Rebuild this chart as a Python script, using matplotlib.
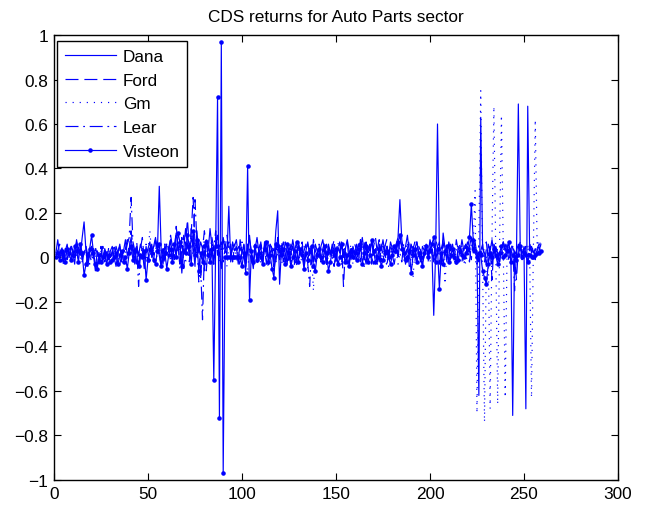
import numpy as np
import matplotlib
matplotlib.use("Agg")
import matplotlib.pyplot as plt

plt.rcParams['font.family'] = ['Liberation Sans', 'DejaVu Sans']

# CDS returns per firm, one value per day
dana = [
    0.02, 0.08, 0.01, 0.04, -0.02, 0.03, 0.06, 0.00, 0.05, 0.02, -0.03, 0.07, 0.04, 0.01, 0.09, 0.16, 0.03, -0.04, 0.02, 0.05,
    0.01, -0.06, 0.03, 0.00, 0.02, -0.02, 0.04, 0.01, -0.01, 0.03, 0.05, 0.00, -0.04, 0.02, 0.06, -0.01, 0.03, 0.08, 0.01, 0.04,
    0.09, 0.02, -0.03, 0.05, 0.01, 0.06, 0.03, -0.05, 0.02, 0.04, 0.07, 0.00, 0.05, 0.09, 0.02, 0.32, 0.04, -0.03, 0.06, 0.01,
    0.03, 0.08, -0.02, 0.05, 0.11, 0.03, 0.06, -0.07, 0.04, 0.13, 0.06, 0.01, 0.09, 0.05, -0.04, 0.12, 0.02, 0.07, 0.04, -0.06,
    0.08, 0.03, 0.13, 0.05, -0.03, 0.06, 0.10, 0.02, -0.05, 0.09, 0.04, 0.01, 0.23, -0.02, 0.07, 0.03, 0.05, -0.03, 0.08, 0.02,
    0.06, -0.04, 0.03, 0.10, 0.01, -0.05, 0.04, 0.09, 0.02, 0.05, -0.03, 0.07, 0.03, 0.00, 0.06, 0.04, -0.02, 0.12, 0.21, -0.12,
    0.04, 0.07, 0.02, -0.03, 0.05, 0.01, 0.08, 0.03, -0.02, 0.06, 0.02, 0.05, -0.04, 0.03, 0.07, 0.01, 0.04, -0.02, 0.06, 0.03,
    0.00, 0.05, 0.08, 0.02, -0.03, 0.04, 0.01, 0.06, 0.03, -0.02, 0.05, 0.02, 0.07, 0.00, 0.04, 0.08, 0.03, -0.01, 0.05, 0.02,
    0.06, 0.01, 0.04, 0.09, 0.02, -0.03, 0.05, 0.03, 0.07, 0.01, 0.04, -0.02, 0.06, 0.03, 0.08, 0.02, 0.05, 0.00, 0.07, 0.04,
    0.02, 0.06, 0.09, 0.26, 0.08, 0.03, 0.05, 0.10, 0.02, 0.06, 0.01, 0.04, 0.07, 0.02, -0.02, 0.05, 0.03, 0.06, 0.01, 0.08,
    0.04, -0.26, 0.02, 0.60, 0.05, -0.03, 0.11, 0.04, -0.02, 0.07, 0.03, 0.06, 0.01, -0.03, 0.05, 0.02, 0.08, 0.03, 0.06, 0.02,
    0.05, 0.09, 0.03, 0.07, 0.01, -0.62, 0.63, 0.04, 0.02, -0.04, 0.06, 0.03, 0.08, 0.01, 0.05, 0.02, -0.02, 0.04, 0.07, 0.03,
    0.06, 0.02, 0.04, -0.71, 0.03, 0.01, 0.69, 0.05, 0.02, 0.04, -0.68, 0.68, 0.03, 0.05, 0.02, 0.04, 0.01, 0.03, 0.06,
]

ford = [
    0.01, 0.03, 0.06, 0.02, -0.03, 0.04, -0.01, 0.05, 0.02, -0.02, 0.03, 0.07, -0.01, 0.04, -0.02, 0.02, 0.05, -0.03, 0.03, 0.06,
    -0.01, 0.04, 0.02, -0.03, 0.05, -0.01, 0.03, -0.02, 0.04, 0.00, 0.02, 0.06, -0.01, 0.03, 0.05, -0.02, -0.02, 0.04, 0.08, 0.03,
    0.12, 0.05, -0.02, 0.07, -0.03, 0.04, 0.09, -0.01, 0.05, -0.02, 0.03, 0.06, -0.02, 0.08, 0.04, 0.01, -0.04, 0.05, -0.02, 0.07,
    0.03, 0.10, 0.05, -0.01, 0.14, 0.06, -0.03, 0.09, -0.05, 0.07, 0.17, 0.04, 0.11, 0.27, 0.06, 0.02, 0.09, -0.09, 0.04, 0.12,
    0.05, 0.08, -0.01, 0.06, -0.03, 0.09, 0.02, 0.05, 0.07, -0.02, 0.04, 0.10, 0.03, 0.06, -0.02, 0.05, 0.08, 0.01, -0.04, 0.03,
    0.06, -0.02, 0.05, 0.08, 0.03, -0.03, 0.06, 0.02, -0.01, 0.07, 0.01, 0.05, -0.03, 0.08, 0.02, 0.04, -0.06, 0.01, 0.09, 0.03,
    0.05, -0.02, 0.07, 0.03, -0.01, 0.06, 0.04, -0.03, 0.02, 0.05, 0.03, 0.07, -0.02, 0.04, 0.06, 0.02, -0.03, 0.08, 0.03, 0.01,
    0.04, -0.02, 0.02, 0.05, -0.03, 0.06, 0.01, 0.04, 0.08, -0.02, 0.05, 0.03, 0.06, -0.13, 0.04, 0.07, -0.02, 0.05, 0.01, 0.06,
    0.03, -0.02, 0.08, 0.02, -0.01, 0.07, 0.01, 0.06, -0.03, 0.05, 0.09, 0.02, -0.02, 0.06, 0.01, 0.05, 0.08, -0.02, 0.06, 0.02,
    0.04, 0.07, -0.01, 0.09, 0.05, 0.02, -0.03, 0.04, 0.08, 0.01, 0.05, -0.02, 0.07, 0.02, 0.04, -0.03, 0.03, 0.05, 0.01, 0.04,
    0.06, -0.02, 0.08, 0.05, -0.03, 0.04, 0.07, 0.01, 0.05, -0.02, 0.06, 0.02, -0.01, 0.08, 0.03, 0.05, -0.02, 0.06, 0.04, 0.07,
    0.03, -0.01, 0.09, 0.02, 0.04, -0.02, 0.03, 0.01, 0.05, 0.07, -0.02, 0.04, -0.10, 0.06, 0.03, -0.01, 0.02, 0.04, 0.07, 0.03,
    0.05, -0.02, 0.04, 0.06, 0.01, -0.10, 0.04, 0.07, -0.01, 0.05, 0.02, -0.02, 0.06, 0.03, 0.05, -0.01, 0.04, 0.06, 0.05,
]

gm = [
    0.00, 0.02, -0.01, 0.04, 0.01, 0.03, -0.02, 0.05, 0.02, 0.00, 0.03, 0.01, 0.06, -0.01, 0.02, 0.04, 0.00, 0.03, 0.01, -0.02,
    0.02, 0.05, 0.01, -0.03, 0.03, 0.00, 0.04, 0.02, -0.01, 0.03, 0.01, 0.05, 0.00, 0.02, 0.04, -0.02, 0.01, 0.03, 0.00, 0.06,
    0.02, 0.05, 0.01, -0.02, 0.03, 0.00, 0.04, 0.02, -0.01, 0.03, 0.12, 0.01, 0.04, -0.02, 0.02, 0.05, 0.00, 0.03, 0.06, 0.01,
    0.04, -0.02, 0.03, 0.07, 0.01, 0.05, 0.02, 0.09, 0.03, -0.03, 0.06, 0.02, 0.04, 0.01, 0.07, 0.03, 0.05, 0.00, 0.04, 0.08,
    0.02, -0.03, 0.03, 0.07, -0.01, 0.04, 0.09, -0.02, 0.06, 0.03, 0.08, -0.04, 0.05, 0.03, -0.02, 0.06, 0.00, -0.03, 0.02, 0.05,
    0.01, -0.04, -0.06, 0.04, 0.02, -0.02, 0.00, 0.03, 0.06, -0.03, 0.04, 0.02, -0.01, -0.04, 0.03, 0.06, 0.01, -0.02, 0.02, 0.05,
    -0.03, 0.00, 0.04, 0.06, -0.02, 0.05, 0.01, -0.04, 0.07, 0.02, -0.02, 0.00, 0.05, 0.03, -0.05, 0.06, 0.02, -0.15, 0.04, -0.01,
    0.05, -0.02, 0.04, 0.00, 0.06, -0.03, 0.01, 0.05, -0.04, 0.04, 0.07, 0.01, -0.03, 0.05, 0.00, -0.02, 0.02, 0.06, -0.03, 0.01,
    0.04, -0.02, 0.06, 0.00, -0.04, 0.05, 0.01, 0.04, -0.02, 0.07, 0.03, -0.03, 0.05, 0.02, -0.01, 0.06, 0.01, -0.04, 0.05, 0.02,
    0.00, 0.04, -0.03, 0.02, 0.05, -0.02, 0.03, 0.07, -0.01, 0.04, -0.09, 0.03, -0.02, 0.01, 0.04, -0.03, 0.06, 0.03, 0.00, -0.02,
    0.02, 0.05, -0.03, 0.03, 0.06, -0.02, 0.08, -0.12, 0.04, -0.01, 0.03, 0.05, -0.03, 0.04, 0.00, -0.02, 0.06, 0.01, -0.03, 0.02,
    0.05, 0.03, 0.06, 0.30, -0.70, 0.10, 0.75, -0.05, -0.74, 0.02, 0.04, -0.68, 0.10, 0.68, 0.02, -0.66, 0.05, 0.64, 0.03, -0.63,
    0.02, 0.05, 0.01, 0.03, 0.04, 0.02, 0.05, 0.01, 0.03, 0.04, 0.02, 0.05, 0.03, -0.63, 0.04, 0.62, 0.05, 0.08, 0.05,
]

lear = [
    0.01, 0.03, 0.00, 0.05, 0.02, -0.02, 0.04, 0.01, 0.06, 0.03, 0.00, 0.08, 0.02, 0.04, -0.01, 0.03, 0.05, 0.01, -0.03, 0.02,
    0.04, 0.00, -0.04, 0.03, 0.01, 0.05, -0.02, 0.02, 0.04, 0.00, 0.03, -0.01, 0.05, 0.02, -0.03, 0.01, 0.04, 0.02, 0.06, 0.09,
    0.27, 0.07, 0.03, 0.05, -0.13, 0.02, 0.04, 0.00, 0.06, 0.02, -0.03, 0.05, 0.01, 0.03, 0.07, 0.02, -0.04, 0.04, 0.01, 0.06,
    0.03, 0.09, 0.00, 0.05, 0.02, 0.07, -0.05, 0.04, 0.10, 0.02, 0.06, -0.02, 0.13, 0.05, 0.26, 0.08, -0.11, -0.04, -0.28, 0.03,
    -0.06, 0.05, 0.02, 0.09, 0.04, 0.12, 0.01, 0.06, 0.03, 0.08, 0.02, 0.05, 0.07, 0.01, 0.04, 0.06, 0.02, 0.05, 0.03, 0.07,
    0.04, -0.03, 0.06, 0.03, -0.02, 0.02, 0.05, -0.03, 0.04, 0.07, -0.02, 0.05, 0.01, -0.04, 0.06, 0.02, 0.04, -0.02, 0.05, -0.01,
    0.07, 0.02, -0.03, 0.01, 0.06, -0.02, 0.05, 0.00, -0.04, 0.07, 0.02, -0.01, 0.03, 0.06, -0.03, -0.13, 0.04, 0.02, -0.02, 0.03,
    0.06, -0.02, 0.04, 0.07, -0.03, 0.05, 0.03, 0.00, -0.04, 0.02, 0.04, 0.07, -0.02, 0.05, 0.03, -0.03, 0.02, 0.04, 0.00, -0.02,
    0.03, 0.06, -0.02, 0.04, 0.07, -0.03, 0.05, 0.03, 0.00, -0.03, 0.02, 0.04, 0.08, -0.02, 0.05, 0.03, -0.04, 0.02, 0.04, 0.01,
    -0.03, 0.03, 0.07, 0.02, -0.02, 0.06, 0.01, 0.05, -0.04, 0.00, 0.04, 0.07, -0.02, 0.05, 0.03, -0.03, 0.01, 0.04, -0.02, 0.05,
    0.03, -0.02, 0.01, 0.04, 0.07, -0.03, 0.05, 0.03, 0.00, 0.06, -0.02, 0.04, 0.01, -0.04, 0.03, 0.06, 0.02, -0.03, 0.01, 0.05,
    -0.02, 0.06, 0.02, 0.04, -0.03, 0.05, 0.03, 0.06, -0.02, 0.04, 0.00, 0.05, -0.03, 0.06, 0.02, 0.04, -0.02, 0.05, 0.03, 0.06,
    0.02, 0.04, 0.01, 0.05, -0.15, 0.03, 0.06, 0.02, 0.04, 0.01, 0.05, 0.03, 0.06, 0.02, 0.04, 0.01, 0.03, 0.05, 0.02,
]

visteon = [
    0.00, 0.02, -0.01, 0.03, 0.01, -0.02, 0.04, 0.02, -0.01, 0.01, 0.05, 0.03, -0.02, 0.06, 0.02, -0.08, -0.03, 0.01, 0.04, 0.10,
    0.02, -0.03, -0.05, 0.01, -0.02, 0.00, 0.02, -0.03, 0.01, -0.02, -0.01, 0.00, 0.02, -0.03, 0.01, 0.03, -0.02, 0.00, -0.05, 0.02,
    0.05, -0.01, 0.03, -0.02, -0.04, 0.01, 0.00, 0.03, -0.10, -0.01, 0.04, 0.02, -0.01, -0.03, 0.03, 0.06, -0.04, 0.00, 0.02, -0.05,
    0.01, 0.04, -0.02, 0.06, 0.00, 0.11, 0.07, -0.04, 0.03, 0.02, 0.10, 0.05, -0.03, 0.12, 0.01, 0.08, -0.06, 0.02, -0.02, 0.05,
    0.07, 0.01, -0.02, 0.04, -0.55, 0.05, 0.72, -0.72, 0.97, -0.97, 0.00, 0.00, 0.00, 0.00, 0.00, 0.00, 0.00, 0.00, 0.00, -0.04,
    0.02, -0.07, 0.41, -0.19, 0.03, -0.02, 0.05, -0.01, 0.02, 0.00, -0.03, 0.04, 0.07, -0.02, 0.01, -0.05, -0.09, 0.06, 0.05, 0.03,
    0.01, 0.04, -0.03, 0.06, 0.02, -0.04, 0.00, 0.03, 0.07, -0.02, 0.04, 0.01, -0.05, 0.02, -0.01, 0.03, 0.05, -0.04, -0.06, 0.01,
    0.04, 0.00, -0.02, 0.05, 0.02, -0.06, -0.02, 0.03, 0.01, 0.04, -0.03, 0.00, 0.06, 0.02, -0.02, 0.01, -0.04, 0.03, 0.00, 0.02,
    -0.01, 0.04, 0.06, -0.03, 0.02, 0.05, -0.02, 0.01, 0.08, 0.03, -0.02, 0.00, 0.04, -0.04, -0.01, 0.02, 0.03, 0.00, -0.03, 0.01,
    0.05, 0.03, 0.07, 0.10, 0.04, 0.02, -0.01, 0.00, 0.03, -0.07, 0.01, 0.04, -0.02, 0.02, 0.00, -0.04, 0.02, 0.05, 0.00, 0.03,
    0.06, 0.09, -0.02, 0.04, -0.14, 0.02, -0.03, 0.03, 0.05, -0.02, 0.01, 0.04, 0.00, -0.02, -0.01, 0.03, 0.01, 0.00, 0.02, 0.04,
    0.09, 0.24, 0.08, 0.03, 0.00, 0.02, 0.01, -0.06, -0.09, -0.12, -0.03, 0.02, 0.00, 0.04, 0.01, -0.03, 0.02, 0.05, 0.00, 0.01,
    0.03, 0.07, -0.02, 0.01, 0.00, -0.01, 0.01, 0.05, 0.00, 0.02, 0.01, -0.02, 0.01, 0.00, 0.00, 0.01, 0.02, 0.02, 0.03,
]

names = ["Dana", "Ford", "Gm", "Lear", "Visteon"]
series = [dana, ford, gm, lear, visteon]
styles = ["-", "--", ":", "-.", ".-"]
dash_patterns = [None, (11, 5), (1, 5), (11, 4, 1.5, 4), None]
yticks = [-1, -0.8, -0.6, -0.4, -0.2, 0, 0.2, 0.4, 0.6, 0.8, 1]

fig = plt.figure(figsize=(6.49, 5.10), dpi=100)
ax = fig.add_axes([0.0832, 0.0569, 0.869, 0.8725])

for name, vals, st, dp in zip(names, series, styles, dash_patterns):
    x = np.arange(1, len(vals) + 1)
    line, = ax.plot(x, vals, st, color="b", linewidth=0.85, markersize=4.5, label=name)
    if dp is not None:
        line.set_dashes(dp)

ax.set_xlim(0, 300)
ax.set_ylim(-1, 1)
ax.set_xticks(np.arange(0, 301, 50))
ax.set_yticks(yticks)
ax.set_yticklabels([("%g" % v).replace("-", "\u2212") for v in yticks])
ax.tick_params(direction="in", top=True, right=True, labelsize=12.4, length=5, pad=4)
for s in ax.spines.values():
    s.set_linewidth(1.0)
ax.set_title("CDS returns for Auto Parts sector", fontsize=12.4, pad=10)

leg = ax.legend(loc="upper left", bbox_to_anchor=(3 / 564, 1 - 6 / 445), borderaxespad=0,
                fontsize=12.3, handlelength=3.0, handletextpad=0.4, fancybox=False,
                edgecolor="k", framealpha=1, labelspacing=0.52, borderpad=0.45)
leg.get_frame().set_linewidth(1.0)

fig.savefig("out.png", dpi=100)
